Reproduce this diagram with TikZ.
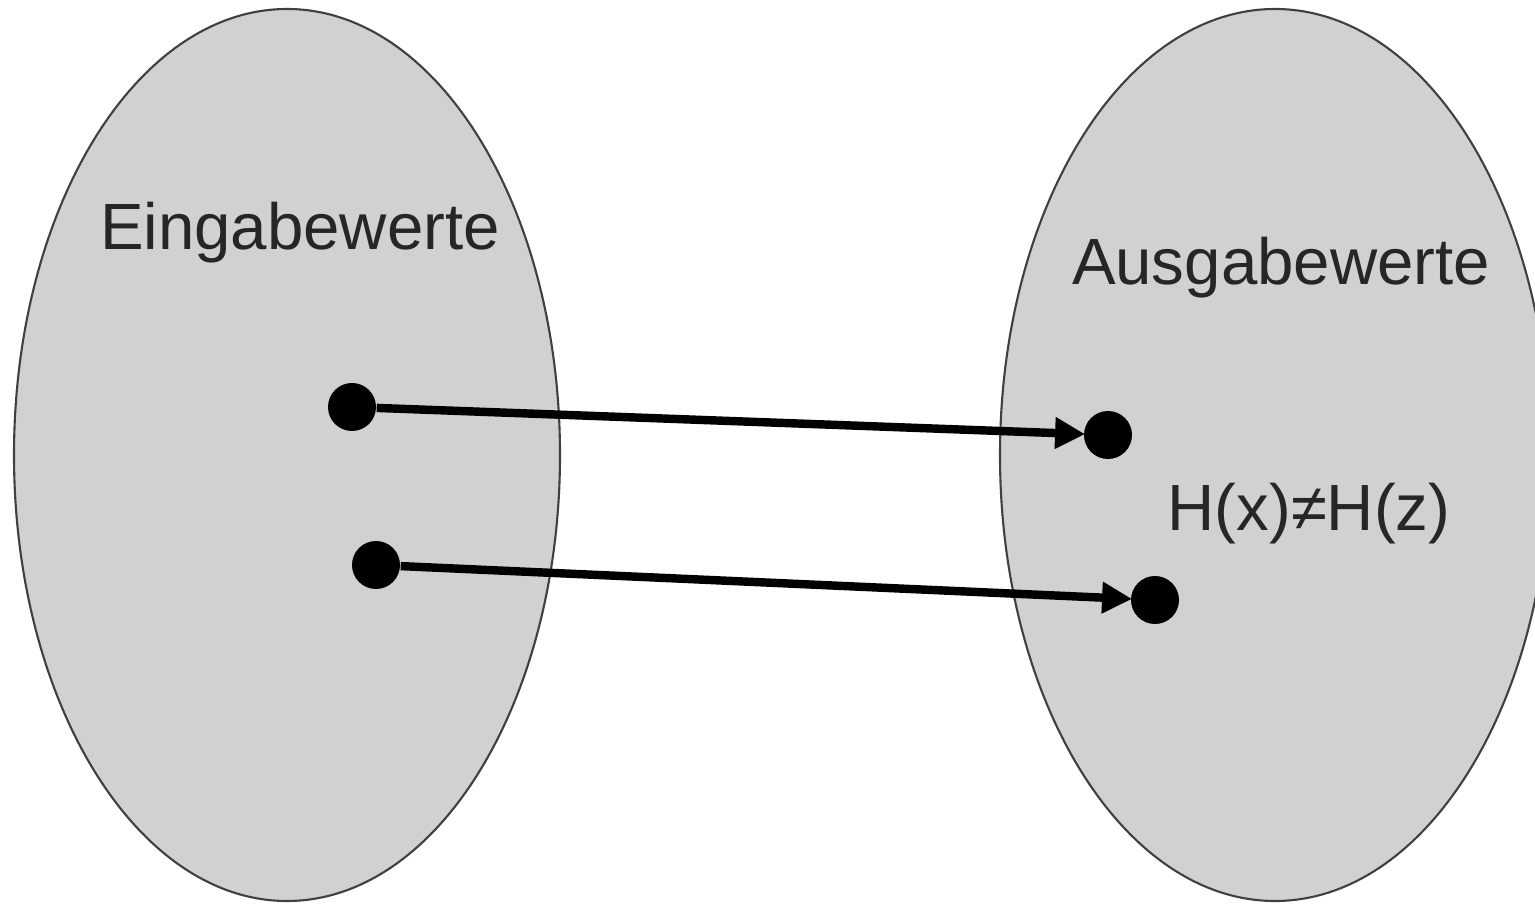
\documentclass[tikz,border=0pt]{standalone}
\usepackage{fontspec}
\setmainfont{Liberation Sans}
\usepackage{tikz}
\usetikzlibrary{arrows.meta,positioning}

\definecolor{setgray}{RGB}{209,208,210}

\begin{document}
\begin{tikzpicture}[
    set/.style={fill=setgray, draw=black!75, line width=0.6pt},
    dot/.style={circle, fill=black, inner sep=0pt, minimum size=0.48cm},
    map/.style={-{Triangle[length=0.3cm, width=0.3cm]}, line width=2.4pt, shorten >=-0.5pt},
    lbl/.style={anchor=base, font=\fontsize{18.6}{22}\selectfont, text=black!85}
]
    \useasboundingbox (0,0) rectangle (15.35,9.03);
    \clip (0,0) rectangle (15.35,9.03);

    % Input and output sets
    \filldraw[set] (2.87,4.48) ellipse (2.73 and 4.46);
    \filldraw[set] (12.75,4.48) ellipse (2.75 and 4.46);

    % Labels
    \node[lbl] (inlbl) at (3.00,6.53) {Eingabewerte};
    \node[lbl] (outlbl) at (12.81,6.18) {Ausgabewerte};
    \node[lbl] (neq) at (13.09,3.73) {H(x)≠H(z)};

    % Elements
    \node[dot] (x) at (3.52,4.96) {};
    \node[dot] (z) at (3.76,3.38) {};
    \node[dot] (hx) at (11.08,4.68) {};
    \node[dot] (hz) at (11.55,3.03) {};

    % Mapping
    \draw[map] (x) -- (hx);
    \draw[map] (z) -- (hz);

\end{tikzpicture}
\end{document}
